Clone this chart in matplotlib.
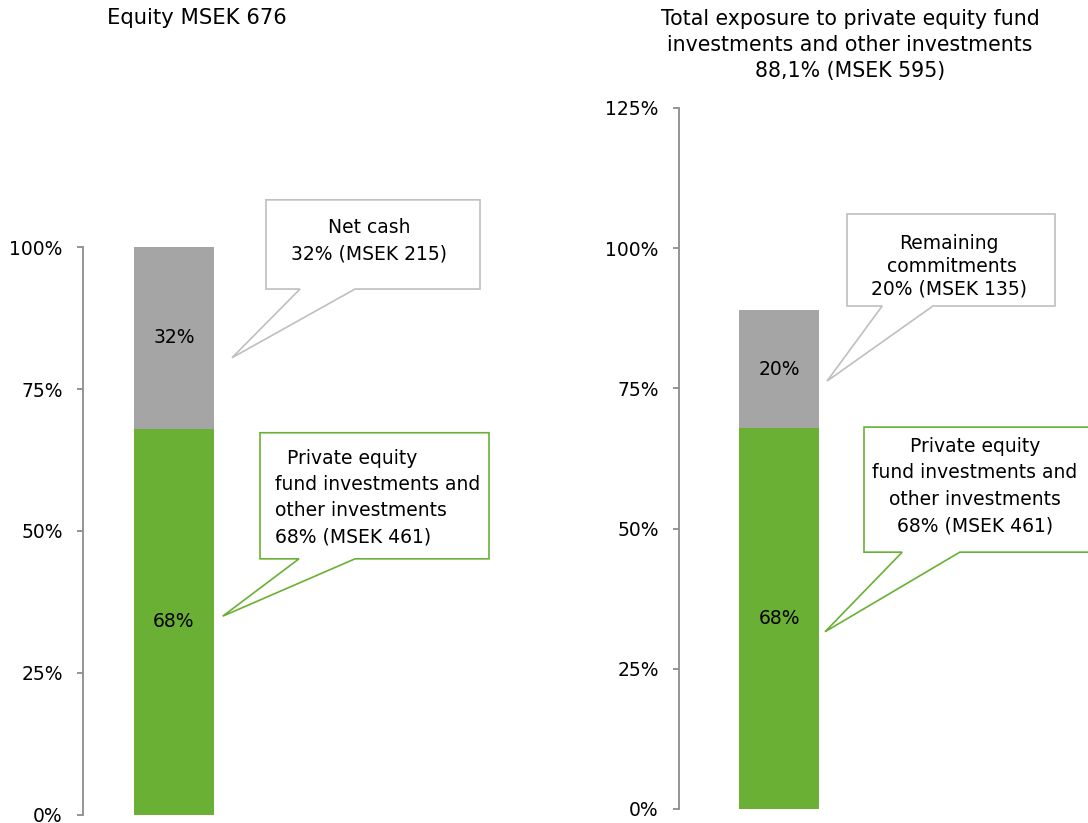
import matplotlib
matplotlib.use("Agg")
import matplotlib.pyplot as plt
from matplotlib.patches import Polygon

plt.rcParams["font.family"] = ["DejaVu Sans"]

# data
left_title = "Equity MSEK 676"
right_title = "Total exposure to private equity fund\ninvestments and other investments\n88,1% (MSEK 595)"

left_values = [68, 32]           # green, grey
left_labels = ["68%", "32%"]
right_values = [67.9, 21.0]
right_labels = ["68%", "20%"]

left_ticks = [0, 25, 50, 75, 100]
right_ticks = [0, 25, 50, 75, 100, 125]

left_notes = ["  Private equity\nfund investments and\nother investments\n68% (MSEK 461)",
              "Net cash\n32% (MSEK 215)"]
right_notes = ["Private equity\nfund investments and\nother investments\n68% (MSEK 461)",
               "Remaining\n commitments\n20% (MSEK 135)"]

GREEN = "#69B034"
GREY = "#A5A5A5"
GREY_EDGE = "#BFBFBF"
SPINE = "#8C8C8C"
FS = 13.5

W, H = 1088, 823
fig = plt.figure(figsize=(W / 100, H / 100), dpi=100)


def make_axes(x0, y_bottom, y_top, ymax, ticks):
    ax = fig.add_axes([x0 / W, (H - y_bottom) / H, 400 / W, (y_bottom - y_top) / H])
    ax.set_xlim(0, 5)
    ax.set_ylim(0, ymax)
    for s in ["top", "right", "bottom"]:
        ax.spines[s].set_visible(False)
    ax.spines["left"].set_color(SPINE)
    ax.spines["left"].set_linewidth(1.3)
    ax.set_xticks([])
    ax.set_yticks(ticks)
    ax.set_yticklabels([f"{t}%" for t in ticks])
    ax.tick_params(axis="y", direction="out", length=4.5, width=1.3, color=SPINE,
                   labelsize=FS, pad=10)
    ax.patch.set_alpha(0)
    return ax


def stacked(ax, xc, values, labels):
    bottom = 0
    for v, lab, col in zip(values, labels, [GREEN, GREY]):
        ax.bar(xc, v, width=1.0, bottom=bottom, color=col, zorder=2)
        ax.text(xc, bottom + v / 2, lab, ha="center", va="center", fontsize=FS, zorder=3)
        bottom += v


def callout(ax, box, base, tip, edge):
    x1, x2, y1, y2 = box
    pts = [(x1, y2), (x2, y2), (x2, y1), (base[1], y1), tip, (base[0], y1), (x1, y1)]
    ax.add_patch(Polygon(pts, closed=True, facecolor="white", edgecolor=edge,
                         linewidth=1.2, clip_on=False, zorder=4))


# left panel
ax1 = make_axes(83, 815, 247, 100, left_ticks)
stacked(ax1, 1.1375, left_values, left_labels)
callout(ax1, (2.2875, 4.9625, 92.6, 108.3), (2.7125, 3.4), (1.8625, 80.5), GREY_EDGE)
ax1.text(3.575, 101.1, left_notes[1], ha="center", va="center", multialignment="center",
         fontsize=FS, linespacing=1.55, zorder=5)
callout(ax1, (2.2125, 5.075, 45.1, 67.3), (2.7, 3.4), (1.746, 35.0), GREEN)
ax1.text(2.4, 55.9, left_notes[0], ha="left", va="center", multialignment="left",
         fontsize=FS, linespacing=1.47, zorder=5)

# right panel
ax2 = make_axes(679, 809, 108, 125, right_ticks)
stacked(ax2, 1.25, right_values, right_labels)
callout(ax2, (2.1, 4.7, 89.7, 106.1), (2.54, 3.175), (1.85, 76.3), GREY_EDGE)
ax2.text(3.37, 96.8, right_notes[1], ha="center", va="center", multialignment="center",
         fontsize=FS, linespacing=1.23, zorder=5)
callout(ax2, (2.3125, 5.4, 45.8, 68.1), (2.79, 3.51), (1.825, 31.6), GREEN)
ax2.text(3.7, 57.6, right_notes[0], ha="center", va="center", multialignment="center",
         fontsize=FS, linespacing=1.5, zorder=5)

# titles
fig.text(197 / W, 1 - 18 / H, left_title, ha="center", va="center", fontsize=15.2)
fig.text(850 / W, 1 - 45 / H, right_title, ha="center", va="center",
         multialignment="center", fontsize=14.8, linespacing=1.4)

fig.savefig("out.png", dpi=100, facecolor="white")
